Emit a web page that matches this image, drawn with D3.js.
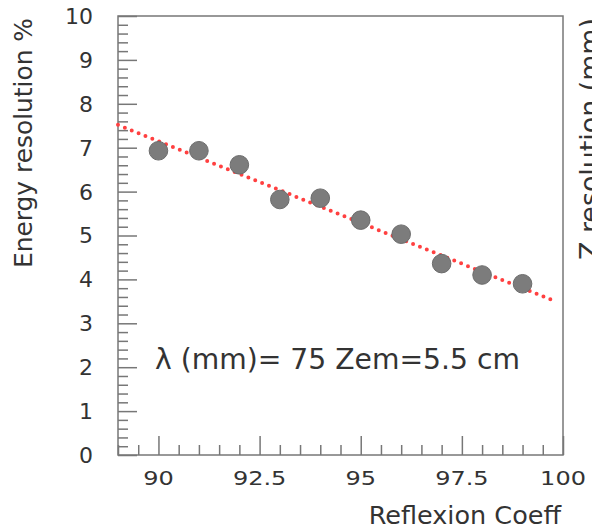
<!DOCTYPE html>
<html>
<head>
<meta charset="utf-8">
<script src="https://cdn.jsdelivr.net/npm/d3@7"></script>
<style>
  html, body { margin: 0; padding: 0; background: #fff; }
  svg { display: block; }
  text { font-family: "DejaVu Sans", Verdana, sans-serif; fill: #333; }
</style>
</head>
<body>
<div id="chart"></div>
<script>
// Reflexion coefficient (%) vs energy resolution (%)
const reflexion = [90, 91, 92, 93, 94, 95, 96, 97, 98, 99];
const energyRes = [6.93, 6.93, 6.61, 5.82, 5.85, 5.35, 5.03, 4.36, 4.10, 3.90];

// Linear fit drawn as a dotted line
const fitX = [89, 99.7];
const fitY = [7.52, 3.54];

const xTicks = [90, 92.5, 95, 97.5, 100];
const yTicks = [0, 1, 2, 3, 4, 5, 6, 7, 8, 9, 10];

const W = 592, H = 531;
const plotL = 118, plotR = 563, plotT = 16, plotB = 455;

const svg = d3.select("#chart").append("svg")
  .attr("width", W).attr("height", H);

const x = d3.scaleLinear().domain([89, 100]).range([plotL, plotR]);
const y = d3.scaleLinear().domain([0, 10]).range([plotB, plotT]);

const axisColor = "#777";

// Frame
svg.append("rect")
  .attr("x", plotL).attr("y", plotT)
  .attr("width", plotR - plotL).attr("height", plotB - plotT)
  .attr("fill", "none").attr("stroke", axisColor).attr("stroke-width", 1.5);

// Y axis ticks (pointing inward)
const yMinor = d3.range(0, 10.001, 0.2).filter(v => Math.abs(v - Math.round(v)) > 1e-6);
const yAxisMajor = d3.axisRight(y).tickValues(yTicks).tickSize(19).tickFormat("");
const yAxisMinor = d3.axisRight(y).tickValues(yMinor).tickSize(10).tickFormat("");
[yAxisMajor, yAxisMinor].forEach(ax => {
  const g = svg.append("g").attr("transform", `translate(${plotL},0)`).call(ax);
  g.select(".domain").remove();
  g.selectAll("line").attr("stroke", axisColor).attr("stroke-width", 1.5);
});

// X axis ticks (pointing inward)
const xMinor = d3.range(89, 100.001, 0.5).filter(v => !xTicks.some(t => Math.abs(t - v) < 1e-6));
const xAxisMajor = d3.axisTop(x).tickValues(xTicks).tickSize(19).tickFormat("");
const xAxisMinor = d3.axisTop(x).tickValues(xMinor).tickSize(10).tickFormat("");
[xAxisMajor, xAxisMinor].forEach(ax => {
  const g = svg.append("g").attr("transform", `translate(0,${plotB})`).call(ax);
  g.select(".domain").remove();
  g.selectAll("line").attr("stroke", axisColor).attr("stroke-width", 1.5);
});

// Tick labels
svg.append("g").selectAll("text").data(yTicks).join("text")
  .attr("x", 93).attr("y", d => y(d))
  .attr("dy", "0.36em")
  .attr("text-anchor", "end")
  .attr("font-size", 22)
  .text(d => d);

svg.append("g").selectAll("text").data(xTicks).join("text")
  .attr("transform", d => `translate(${x(d)},485) scale(1.2,1)`)
  .attr("text-anchor", "middle")
  .attr("font-size", 20)
  .text(d => d);

// Axis titles
svg.append("text")
  .attr("x", 561).attr("y", 524)
  .attr("text-anchor", "end")
  .attr("font-size", 25.5)
  .text("Reflexion Coeff");

svg.append("text")
  .attr("transform", "translate(32,18) rotate(-90)")
  .attr("text-anchor", "end")
  .attr("font-size", 25)
  .attr("textLength", 250)
  .attr("lengthAdjust", "spacingAndGlyphs")
  .text("Energy resolution %");

svg.append("text")
  .attr("transform", "translate(599,260) rotate(-90)")
  .attr("text-anchor", "start")
  .attr("font-size", 26)
  .attr("textLength", 242)
  .attr("lengthAdjust", "spacingAndGlyphs")
  .text("Z resolution (mm)");

// Fit line
svg.append("line")
  .attr("x1", x(fitX[0])).attr("y1", y(fitY[0]))
  .attr("x2", x(fitX[1])).attr("y2", y(fitY[1]))
  .attr("stroke", "#ff4040")
  .attr("stroke-width", 4)
  .attr("stroke-linecap", "round")
  .attr("stroke-dasharray", "0 7.4");

// Data points
svg.append("g").selectAll("circle").data(reflexion).join("circle")
  .attr("cx", d => x(d))
  .attr("cy", (d, i) => y(energyRes[i]))
  .attr("r", 9.3)
  .attr("fill", "#7c7c7c")
  .attr("stroke", "#6c6c6c")
  .attr("stroke-width", 1);

// Annotation
svg.append("text")
  .attr("x", 155).attr("y", 369)
  .attr("font-size", 28)
  .attr("textLength", 365)
  .attr("lengthAdjust", "spacingAndGlyphs")
  .text("λ (mm)= 75 Zem=5.5 cm");
</script>
</body>
</html>
